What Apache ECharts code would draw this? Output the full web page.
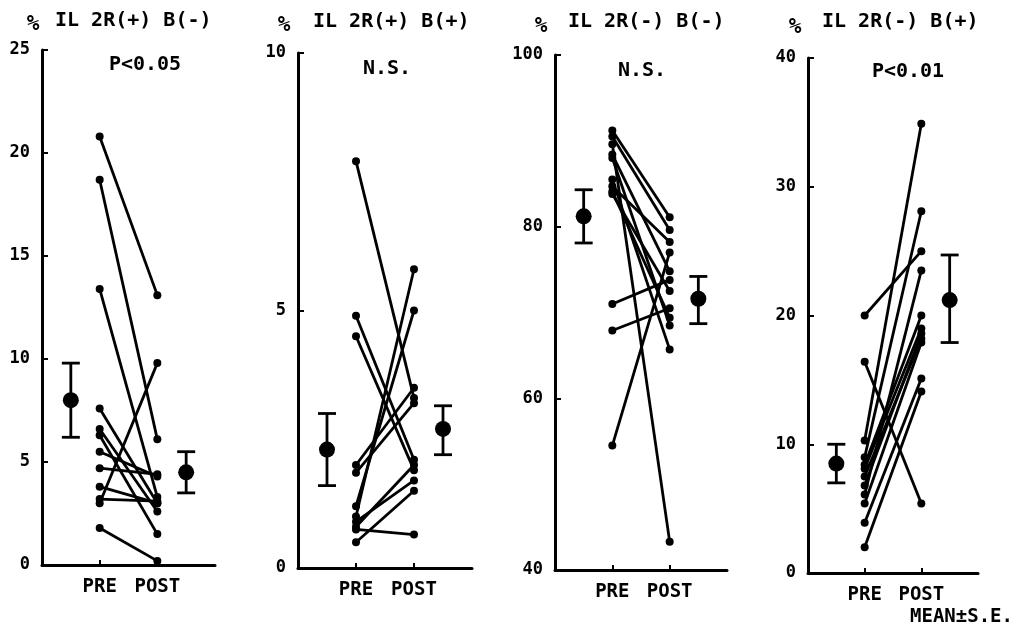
<!DOCTYPE html>
<html><head><meta charset="utf-8">
<script src="https://cdn.jsdelivr.net/npm/echarts@6/dist/echarts.min.js"></script>
<style>html,body{margin:0;padding:0;background:#fff}#c{width:1023px;height:632px}</style>
</head><body><div id="c"></div>
<script>
// x positions: 0 = axis start, 1 = pre mean, 2 = PRE, 4 = POST, 5 = post mean, 6 = axis end
const xCategories = ['', '', 'PRE', '', 'POST', '', ''];
const panelTitles = ['IL 2R(+) B(-)', 'IL 2R(+) B(+)', 'IL 2R(-) B(-)', 'IL 2R(-) B(+)'];
const panelStats = ['P<0.05', 'N.S.', 'N.S.', 'P<0.01'];
const yMin = [0, 0, 40, 0];
const yMax = [25, 10, 100, 40];
const yInterval = [5, 5, 20, 10];

const p1Pre  = [20.8, 18.7, 13.4, 7.6, 6.6, 6.3, 5.5, 4.7, 3.8, 3.2, 3.0, 1.8];
const p1Post = [13.1, 6.1, 3.3, 3.0, 2.6, 1.5, 4.3, 4.4, 3.0, 3.1, 9.8, 0.2];
const p2Pre  = [7.9, 4.9, 4.5, 2.0, 1.85, 1.2, 1.0, 0.9, 0.8, 0.75, 0.5];
const p2Post = [3.3, 2.1, 1.9, 3.5, 3.2, 5.0, 5.8, 1.7, 2.0, 0.65, 1.5];
const p3Pre  = [91.2, 90.5, 89.6, 88.4, 88.0, 85.5, 84.7, 84.1, 83.8, 71.0, 67.9, 54.5];
const p3Post = [81.1, 79.6, 43.3, 74.8, 68.5, 65.7, 78.2, 69.4, 72.5, 73.8, 70.5, 77.0];
const p4Pre  = [20.0, 16.4, 10.3, 9.0, 8.4, 8.1, 7.5, 6.8, 6.1, 5.4, 3.9, 2.0];
const p4Post = [25.0, 5.4, 34.9, 28.1, 20.0, 19.0, 18.2, 18.6, 23.5, 17.9, 15.1, 14.1];

const meanPre  = [8.0, 2.3, 81.2, 8.5];
const meanPost = [4.5, 2.7, 71.6, 21.2];
const sePreLow  = [6.2, 1.6, 78.1, 7.0];
const sePreHigh = [9.8, 3.0, 84.3, 10.0];
const sePostLow  = [3.5, 2.2, 68.7, 17.9];
const sePostHigh = [5.5, 3.15, 74.2, 24.7];

const preAll = [p1Pre, p2Pre, p3Pre, p4Pre];
const postAll = [p1Post, p2Post, p3Post, p4Post];

const FONT = 'DejaVu Sans Mono';
const gridsPos = [
  {left: 42, top: 50, width: 173, height: 515},
  {left: 298, top: 53, width: 174, height: 515},
  {left: 555, top: 55, width: 172, height: 515},
  {left: 808, top: 58, width: 170, height: 515}
];
const titlePos = [
  {pct: [33, 25], txt: [55, 21], stat: [145, 65]},
  {pct: [284, 26], txt: [313, 22], stat: [387, 69]},
  {pct: [541, 27], txt: [568, 22], stat: [642, 71]},
  {pct: [795, 28], txt: [822, 22], stat: [908, 72]}
];

const grid = [], xAxis = [], yAxis = [], series = [], graphic = [];
for (let i = 0; i < 4; i++) {
  grid.push(Object.assign({containLabel: false}, gridsPos[i]));
  xAxis.push({
    type: 'category', gridIndex: i, data: xCategories, boundaryGap: false,
    axisLine: {lineStyle: {color: '#000', width: 3}},
    axisTick: {inside: true, length: 5, lineStyle: {color: '#000', width: 2},
      interval: (idx) => idx === 2 || idx === 4},
    axisLabel: {interval: 0, color: '#000', fontFamily: FONT, fontWeight: 'bold', fontSize: 19, margin: 13},
    splitLine: {show: false}
  });
  yAxis.push({
    type: 'value', gridIndex: i, min: yMin[i], max: yMax[i], interval: yInterval[i],
    axisLine: {show: true, lineStyle: {color: '#000', width: 3}},
    axisTick: {show: true, inside: true, length: 6, lineStyle: {color: '#000', width: 2}},
    axisLabel: {color: '#000', fontFamily: FONT, fontWeight: 'bold', fontSize: 17, margin: 12},
    splitLine: {show: false}
  });
  const pre = preAll[i], post = postAll[i];
  for (let k = 0; k < pre.length; k++) {
    series.push({
      type: 'line', xAxisIndex: i, yAxisIndex: i,
      data: [[2, pre[k]], [4, post[k]]],
      symbol: 'circle', symbolSize: 8, showSymbol: true,
      lineStyle: {color: '#000', width: 2.8},
      itemStyle: {color: '#000', opacity: 1}, silent: true, animation: false
    });
  }
  series.push({
    type: 'custom', xAxisIndex: i, yAxisIndex: i, animation: false, silent: true,
    data: [[1, sePreLow[i], sePreHigh[i]], [5, sePostLow[i], sePostHigh[i]]],
    renderItem: function (params, api) {
      const lo = api.coord([api.value(0), api.value(1)]);
      const hi = api.coord([api.value(0), api.value(2)]);
      const w = 9;
      const st = {stroke: '#000', lineWidth: 2.8};
      return {type: 'group', children: [
        {type: 'line', shape: {x1: lo[0], y1: lo[1], x2: hi[0], y2: hi[1]}, style: st},
        {type: 'line', shape: {x1: lo[0] - w, y1: lo[1], x2: lo[0] + w, y2: lo[1]}, style: st},
        {type: 'line', shape: {x1: hi[0] - w, y1: hi[1], x2: hi[0] + w, y2: hi[1]}, style: st}
      ]};
    }
  });
  series.push({
    type: 'scatter', xAxisIndex: i, yAxisIndex: i, animation: false, silent: true,
    data: [[1, meanPre[i]], [5, meanPost[i]]],
    symbol: 'circle', symbolSize: 16, itemStyle: {color: '#000', opacity: 1}, z: 5
  });
  const tp = titlePos[i];
  graphic.push({type: 'text', x: tp.pct[0], y: tp.pct[1],
    style: {text: '%', font: 'bold 21px ' + FONT, fill: '#000', align: 'center', verticalAlign: 'middle'}});
  graphic.push({type: 'text', x: tp.txt[0], y: tp.txt[1],
    style: {text: panelTitles[i], font: 'bold 20px ' + FONT, fill: '#000', align: 'left', verticalAlign: 'middle'}});
  graphic.push({type: 'text', x: tp.stat[0], y: tp.stat[1],
    style: {text: panelStats[i], font: 'bold 20px ' + FONT, fill: '#000', align: 'center', verticalAlign: 'middle'}});
}
graphic.push({type: 'text', x: 910, y: 617,
  style: {text: 'MEAN±S.E.', font: 'bold 19px ' + FONT, fill: '#000', align: 'left', verticalAlign: 'middle'}});

const chart = echarts.init(document.getElementById('c'), null, {renderer: 'canvas'});
chart.setOption({animation: false, backgroundColor: '#fff', grid, xAxis, yAxis, series, graphic});
</script>
</body></html>
